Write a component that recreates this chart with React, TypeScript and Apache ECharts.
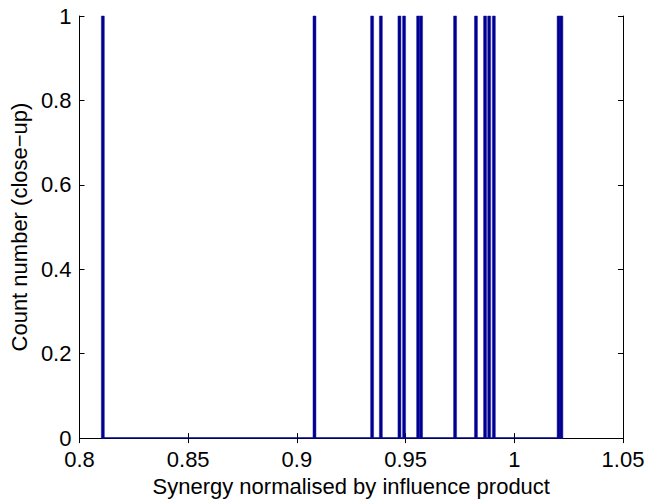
import React, { useEffect, useRef } from "react";
import * as echarts from "echarts";

// Histogram bins (close-up): bin centres and counts
const binCenters = [
  0.81074, 0.90809, 0.9346, 0.93862, 0.94717, 0.94931, 0.95576, 0.95713,
  0.97276, 0.98236, 0.98656, 0.98844, 0.99059, 1.02038, 1.02166,
];
const counts = [1, 1, 1, 1, 1, 1, 1, 1, 1, 1, 1, 1, 1, 1, 1];
const binWidth = 0.00137;

const xTicks = { min: 0.8, max: 1.05, interval: 0.05 };
const yTicks = { min: 0, max: 1, interval: 0.2 };

const xName = "Synergy normalised by influence product";
const yName = "Count number (close\u2212up)";

const BAR_COLOR = "#00008F";
const FONT = "Liberation Sans, Arial, Helvetica, sans-serif";
const FS = 22;

export default function App() {
  const ref = useRef<HTMLDivElement>(null);
  useEffect(() => {
    if (!ref.current) return;
    document.body.style.margin = "0";
    const chart = echarts.init(ref.current, null, { renderer: "svg" });
    const barData = binCenters.map((c, i) => [c, counts[i]]);
    const baseStart = Math.min(...binCenters) - binWidth / 2;
    const baseEnd = Math.max(...binCenters) + binWidth / 2;
    const axisLabel = { color: "#000", fontSize: FS, fontFamily: FONT };
    const common = {
      axisLine: { show: true, lineStyle: { color: "#000", width: 1 } },
      axisTick: { show: true, inside: true, length: 5, lineStyle: { color: "#000" } },
      splitLine: { show: false },
    };
    chart.setOption({
      animation: false,
      backgroundColor: "#fff",
      grid: { left: 76, right: 38, top: 16, bottom: 54, containLabel: false },
      xAxis: [
        {
          type: "value",
          position: "bottom",
          ...xTicks,
          ...common,
          axisLabel: { ...axisLabel, margin: 12, lineHeight: 18 },
          name: xName,
          nameLocation: "middle",
          nameGap: 29,
          nameTextStyle: { color: "#000", fontSize: FS, fontFamily: FONT },
        },
        {
          type: "value",
          position: "top",
          ...xTicks,
          ...common,
          axisLabel: { show: false },
        },
      ],
      yAxis: [
        {
          type: "value",
          position: "left",
          ...yTicks,
          ...common,
          axisLabel: { ...axisLabel, margin: 8, lineHeight: 16 },
          name: yName,
          nameLocation: "middle",
          nameGap: 41,
          nameTextStyle: { color: "#000", fontSize: FS, fontFamily: FONT },
        },
        {
          type: "value",
          position: "right",
          ...yTicks,
          ...common,
          axisLabel: { show: false },
        },
      ],
      series: [
        {
          type: "line",
          xAxisIndex: 0,
          yAxisIndex: 0,
          data: [
            [baseStart, 0],
            [baseEnd, 0],
          ],
          symbol: "none",
          lineStyle: { color: BAR_COLOR, width: 1.5 },
          z: 3,
        },
        {
          type: "custom",
          xAxisIndex: 0,
          yAxisIndex: 0,
          data: barData,
          renderItem: (params: any, api: any) => {
            const x = api.value(0);
            const y = api.value(1);
            const p0 = api.coord([x - binWidth / 2, y]);
            const p1 = api.coord([x + binWidth / 2, 0]);
            return {
              type: "rect",
              shape: { x: p0[0], y: p0[1], width: p1[0] - p0[0], height: p1[1] - p0[1] },
              style: { fill: BAR_COLOR, stroke: "#1a1aa8", lineWidth: 0.5 },
            };
          },
          z: 4,
        },
      ],
    });
    return () => chart.dispose();
  }, []);
  return <div ref={ref} style={{ width: 661, height: 502 }} />;
}
